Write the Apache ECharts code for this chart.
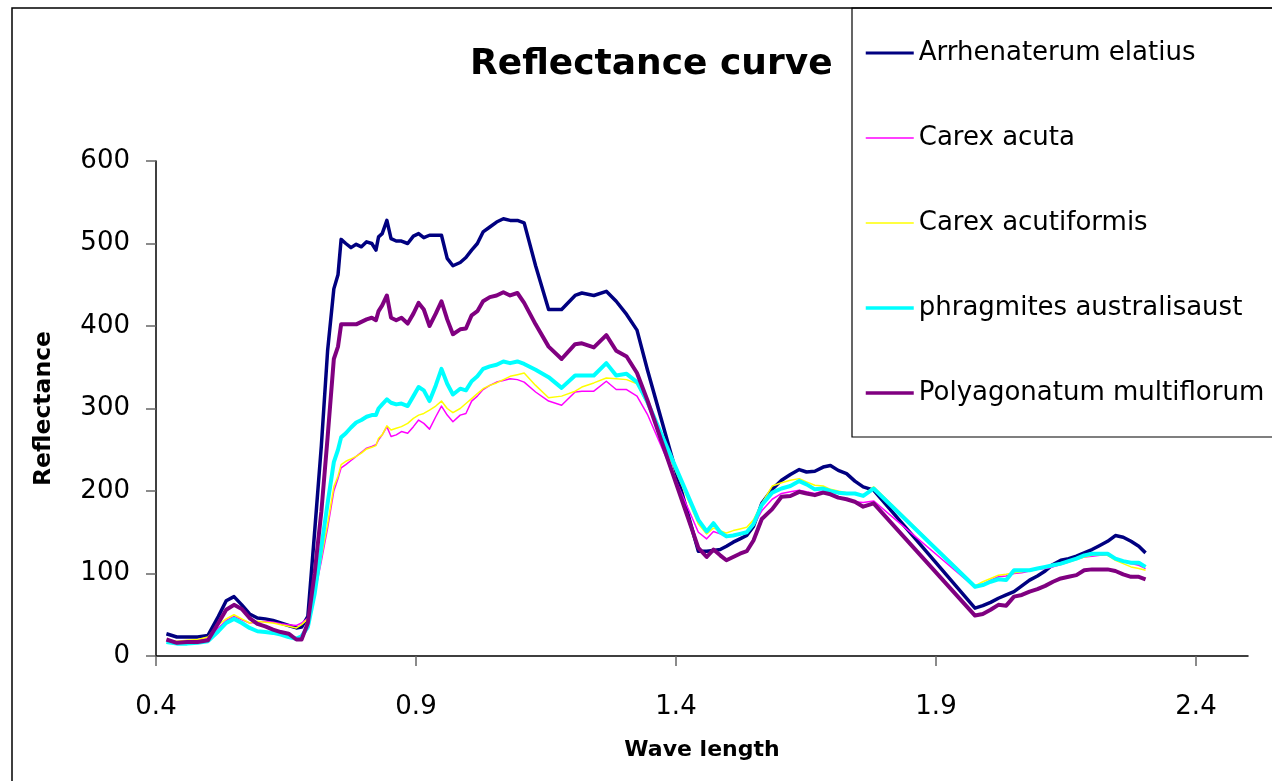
<!DOCTYPE html>
<html>
<head>
<meta charset="utf-8">
<script src="https://cdn.jsdelivr.net/npm/echarts@6/dist/echarts.min.js"></script>
<style>
  html, body { margin: 0; padding: 0; background: #fff; }
  #chart { width: 1272px; height: 781px; }
</style>
</head>
<body>
<div id="chart"></div>
<script>
// wavelengths (um), shared by all curves
var wl = [
  0.42, 0.44, 0.46, 0.48, 0.50, 0.52, 0.535, 0.55, 0.565, 0.58, 0.595, 0.61, 0.625, 0.64, 0.655, 0.67, 0.68,
  0.692, 0.705, 0.718, 0.73, 0.742, 0.75, 0.756,
  0.765, 0.775, 0.785, 0.795, 0.805, 0.815, 0.823, 0.828, 0.835, 0.844, 0.852, 0.862, 0.872, 0.884, 0.895, 0.905,
  0.915, 0.926, 0.938, 0.949, 0.960, 0.971, 0.985, 0.996, 1.007, 1.018, 1.029, 1.042, 1.055, 1.068, 1.081, 1.095,
  1.108, 1.13, 1.155, 1.18, 1.206, 1.219, 1.242, 1.266, 1.285, 1.305, 1.325, 1.345,
  1.443, 1.459, 1.472, 1.485, 1.497, 1.51, 1.523, 1.536, 1.549, 1.565, 1.585, 1.603, 1.62, 1.637, 1.651, 1.667,
  1.683, 1.697, 1.712, 1.728, 1.744, 1.76, 1.78,
  1.975, 1.99, 2.005, 2.02, 2.035, 2.05, 2.065, 2.08, 2.095, 2.11, 2.125, 2.14, 2.155, 2.17, 2.185, 2.2,
  2.215, 2.23, 2.245, 2.26, 2.275, 2.29, 2.303
];

var arrhenaterum = [
  27, 23, 23, 23, 25, 48, 67, 72, 62, 51, 46, 45, 43, 40, 37, 34, 35,
  48, 150, 255, 370, 445, 462, 505,
  500, 495, 499, 496, 502, 500, 492, 508, 512, 528, 506, 503, 503, 500, 509, 512,
  507, 510, 510, 510, 482, 473, 477, 483, 492, 500, 514, 520, 526, 530, 528, 528,
  525, 473, 420, 420, 437, 440, 437, 442, 430, 414, 395, 347,
  127, 127, 128, 129, 133, 138, 142, 146, 157, 185, 202, 213, 220, 226, 223, 224,
  229, 231, 225, 221, 212, 205, 201,
  58, 61, 65, 70, 74, 78, 85, 92, 97, 103, 111, 116, 118, 121, 125, 129,
  134, 139, 146, 144, 139, 133, 125
];

var carexAcuta = [
  18, 17, 18, 19, 21, 34, 43, 48, 44, 40, 41, 42, 41, 39, 38, 37, 40,
  46, 75, 115, 155, 200, 215, 228,
  232, 237, 242, 247, 252, 254, 256, 262, 268, 278, 266, 268, 272, 270, 278, 286,
  282, 275, 290, 303, 292, 284, 292, 294, 309, 315, 323, 328, 332, 334, 336, 335,
  332, 320, 309, 304, 320, 321, 321, 333, 323, 323, 315, 293,
  150, 142, 151, 148, 145, 146, 147, 150, 158, 176, 190, 197, 199, 201, 199, 197,
  200, 197, 193, 190, 187, 186, 188,
  83, 87, 92, 96, 97, 100, 101, 103, 105, 106, 108, 111, 114, 118, 120, 121,
  122, 122, 118, 115, 112, 110, 106
];

var carexAcutiformis = [
  19, 18, 19, 20, 23, 38, 45, 50, 45, 40, 42, 41, 40, 38, 36, 34, 38,
  45, 75, 120, 160, 205, 218, 232,
  236, 239, 242, 246, 251, 253, 255, 264, 268, 279, 274, 276, 278, 282, 288, 292,
  294, 298, 303, 309, 300, 295, 300, 306, 312, 318, 324, 328, 331, 335, 339, 341,
  343, 328, 313, 315, 321, 326, 331, 337, 336, 335, 330, 305,
  160, 148, 155, 152, 149, 152, 154, 156, 165, 185, 206, 210, 213, 215, 211, 207,
  206, 202, 200, 198, 197, 195, 205,
  85, 90, 94, 98, 99, 101, 102, 104, 106, 107, 109, 111, 114, 117, 120, 122,
  123, 122, 116, 112, 108, 106, 104
];

var phragmites = [
  17, 15, 15, 16, 18, 30, 40, 45, 40, 34, 30, 29, 28, 26, 23, 21, 24,
  35, 75, 132, 185, 235, 250, 265,
  270, 277, 283, 286, 290, 292, 292, 300, 305, 311, 307, 305, 306, 303, 315, 326,
  322, 309, 328, 348, 330, 317, 324, 322, 333, 339, 348, 351, 353, 357, 355, 357,
  354, 347, 338, 325, 340, 340, 340, 355, 340, 342, 332, 308,
  165, 151, 161, 150, 145, 146, 148, 150, 160, 183, 198, 203, 206, 212, 208, 202,
  203, 200, 198, 197, 197, 194, 203,
  84, 86, 90, 93, 92, 104, 104, 104, 106, 108, 110, 112, 115, 118, 122, 124,
  124, 124, 118, 115, 113, 113, 108
];

var polyagonatum = [
  20, 16, 17, 17, 19, 40, 56, 62, 57, 46, 39, 36, 32, 29, 27, 20, 20,
  40, 100, 175, 265, 360, 375, 402,
  402, 402, 402, 405, 408, 410, 407, 418, 425, 437, 410, 407, 410, 403, 415, 428,
  420, 400, 415, 430, 408, 390, 396, 397, 413, 418, 430, 435, 437, 441, 437, 440,
  428, 402, 375, 360, 378, 379, 374, 389, 370, 363, 343, 310,
  131, 120, 129, 122, 116, 120, 124, 127, 140, 166, 178, 193, 194, 199, 197, 195,
  198, 196, 192, 190, 187, 181, 185,
  49, 51, 56, 62, 61, 72, 74, 78, 81, 85, 90, 94, 96, 98, 104, 105,
  105, 105, 103, 99, 96, 96, 93
];

var seriesNames = ['Arrhenaterum elatius', 'Carex acuta', 'Carex acutiformis',
  'phragmites australisaust', 'Polyagonatum multiflorum'];
var seriesValues = [arrhenaterum, carexAcuta, carexAcutiformis, phragmites, polyagonatum];
var seriesColors = ['#000080', '#ff00ff', '#ffff00', '#00ffff', '#800080'];
var seriesWidths = [3.5, 1.5, 1.5, 4, 4];
var legendWidths = [3, 1.5, 1.5, 3.5, 3.5];

var xTicks = [0.4, 0.9, 1.4, 1.9, 2.4];

var FONT = 'DejaVu Sans';

function pairs(vals) {
  var out = [];
  for (var i = 0; i < wl.length; i++) {
    out.push([wl[i], vals[i]]);
  }
  return out;
}

var series = [];
var legendData = [];
for (var i = 0; i < seriesNames.length; i++) {
  series.push({
    name: seriesNames[i],
    type: 'line',
    data: pairs(seriesValues[i]),
    symbol: 'none',
    showSymbol: false,
    color: seriesColors[i],
    lineStyle: { color: seriesColors[i], width: seriesWidths[i], join: 'round' },
    z: 2 + i
  });
  legendData.push({
    name: seriesNames[i],
    lineStyle: { color: seriesColors[i], width: legendWidths[i] }
  });
}

var chart = echarts.init(document.getElementById('chart'), null, { renderer: 'canvas' });

chart.setOption({
  backgroundColor: '#ffffff',
  animation: false,
  title: {
    text: 'Reflectance curve',
    left: 470,
    top: 47,
    padding: 0,
    textStyle: { fontFamily: FONT, fontSize: 36, fontWeight: 'bold', color: '#000' }
  },
  legend: {
    orient: 'vertical',
    left: 864,
    top: 40,
    padding: 0,
    itemWidth: 48,
    itemHeight: 26,
    itemGap: 59,
    data: legendData,
    // hide the default circle marker, keep only the line sample
    itemStyle: { color: 'transparent', borderWidth: 0, opacity: 0 },
    textStyle: { fontFamily: FONT, fontSize: 26, color: '#000' }
  },
  grid: {
    left: 156,
    right: 24,
    top: 161,
    bottom: 125,
    containLabel: false
  },
  xAxis: {
    type: 'value',
    min: 0.4,
    max: 2.5,
    interval: 0.5,
    name: 'Wave length',
    nameLocation: 'middle',
    nameGap: 83,
    nameTextStyle: { fontFamily: FONT, fontSize: 22, fontWeight: 'bold', color: '#000' },
    axisLine: { show: true, onZero: false, lineStyle: { color: '#000', width: 1.5 } },
    axisTick: { show: true, inside: false, length: 10, customValues: xTicks, lineStyle: { color: '#666', width: 1.5 } },
    axisLabel: {
      customValues: xTicks,
      margin: 38,
      fontFamily: FONT, fontSize: 26, color: '#000',
      formatter: function (v) { return v.toFixed(1); }
    },
    splitLine: { show: false }
  },
  yAxis: {
    type: 'value',
    min: 0,
    max: 600,
    interval: 100,
    name: 'Reflectance',
    nameLocation: 'middle',
    nameRotate: 90,
    nameGap: 100,
    nameTextStyle: { fontFamily: FONT, fontSize: 23.5, fontWeight: 'bold', color: '#000' },
    axisLine: { show: true, lineStyle: { color: '#000', width: 1.5 } },
    axisTick: { show: true, inside: false, length: 10, lineStyle: { color: '#666', width: 1.5 } },
    axisLabel: { margin: 26, fontFamily: FONT, fontSize: 26, color: '#000' },
    splitLine: { show: false }
  },
  graphic: [
    {
      type: 'rect',
      silent: true,
      shape: { x: 12, y: 8, width: 1300, height: 800 },
      style: { fill: 'none', stroke: '#000', lineWidth: 1.5 }
    },
    {
      type: 'rect',
      silent: true,
      shape: { x: 852, y: 8, width: 460, height: 429 },
      style: { fill: '#fff', stroke: '#000', lineWidth: 1.2 },
      z: -1
    }
  ],
  series: series
});
</script>
</body>
</html>
